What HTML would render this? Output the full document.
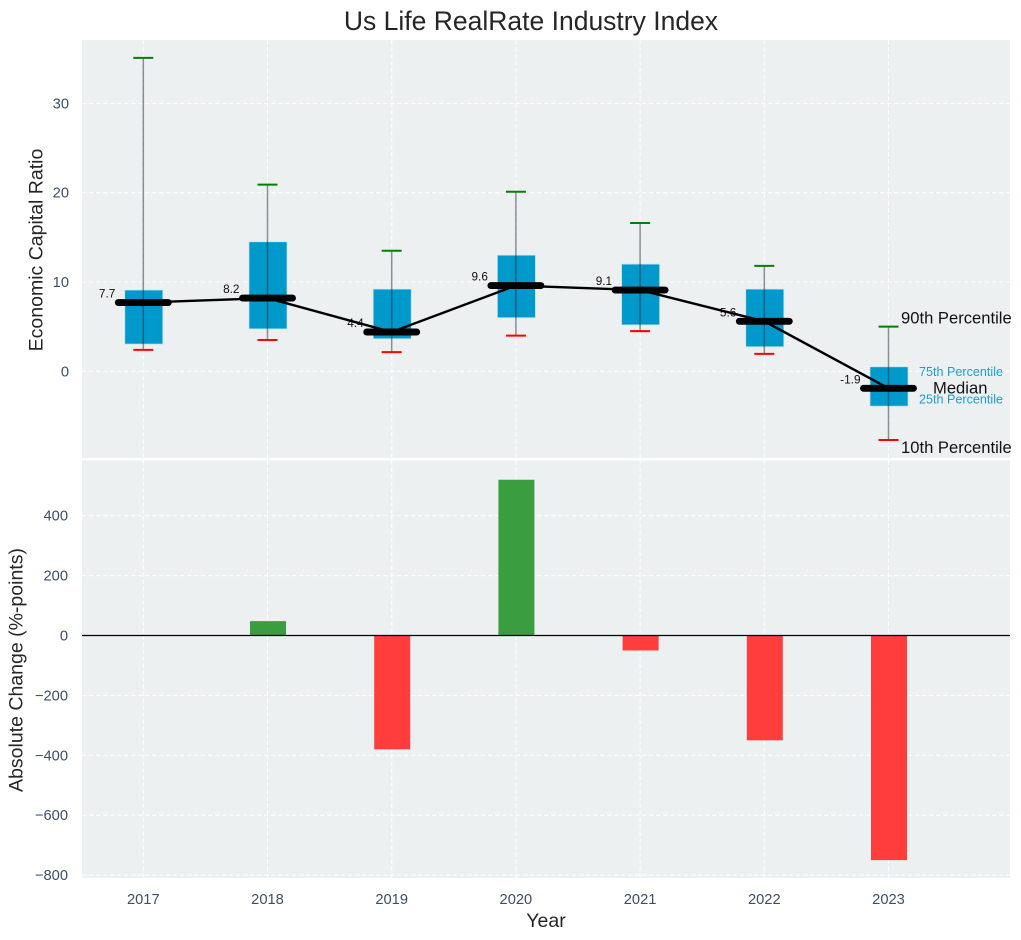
<!DOCTYPE html>
<html>
<head>
<meta charset="utf-8">
<title>Us Life RealRate Industry Index</title>
<style>
html,body{margin:0;padding:0;background:#fff;width:1021px;height:940px;overflow:hidden}
svg{display:block}
text{font-family:"Liberation Sans",Arial,sans-serif}
</style>
</head>
<body>
<svg id="chart" xmlns="http://www.w3.org/2000/svg" width="1021" height="940" viewBox="0 0 1021 940">
  <text x="531" y="30" text-anchor="middle" font-size="26.5" fill="#262626">Us Life RealRate Industry Index</text>
  <rect x="82" y="40" width="928" height="418" fill="#ecf0f1"/>
  <rect x="82" y="460.5" width="928" height="417.5" fill="#ecf0f1"/>
  <g id="grid"></g>
  <g id="bars"></g>
  <line x1="82" x2="1010" y1="635.5" y2="635.5" stroke="#000" stroke-width="1.3"/>
  <g id="boxes"></g>
  <g id="labels"></g>
  <g id="medians"></g>
  <g id="keys"></g>
  <g id="ticks"></g>
  <text transform="translate(42.5,250) rotate(-90)" text-anchor="middle" font-size="19.5" fill="#262626">Economic Capital Ratio</text>
  <text transform="translate(22.5,670) rotate(-90)" text-anchor="middle" font-size="19.5" fill="#262626">Absolute Change (%-points)</text>
  <text x="546" y="927" text-anchor="middle" font-size="19.5" fill="#262626">Year</text>
</svg>
<script>
const years = [2017, 2018, 2019, 2020, 2021, 2022, 2023];
const p90 = [35.1, 20.9, 13.5, 20.1, 16.6, 11.8, 5.0];
const p75 = [9.1, 14.5, 9.2, 13.0, 12.0, 9.2, 0.5];
const medianValues = [7.7, 8.2, 4.4, 9.6, 9.1, 5.6, -1.9];
const p25 = [3.05, 4.75, 3.65, 6.0, 5.2, 2.75, -3.9];
const p10 = [2.4, 3.5, 2.15, 4.0, 4.5, 1.95, -7.7];
const changes = [0, 48, -380, 520, -50, -350, -750];
const topTicks = [0, 10, 20, 30];
const bottomTicks = [-800, -600, -400, -200, 0, 200, 400];

const NS = 'http://www.w3.org/2000/svg';
const xScale = function (year) { return 143.3 + (year - 2017) * 124.2; };
const yTop = function (v) { return 371.3 - v * 8.93; };
const yBottom = function (v) { return 635.5 - v * 0.2995; };

function mk(tag, attrs, parent) {
  const el = document.createElementNS(NS, tag);
  Object.keys(attrs).forEach(function (k) { el.setAttribute(k, attrs[k]); });
  parent.appendChild(el);
  return el;
}
const grid = document.getElementById('grid');
const bars = document.getElementById('bars');
const boxes = document.getElementById('boxes');
const labels = document.getElementById('labels');
const medians = document.getElementById('medians');
const keys = document.getElementById('keys');
const ticks = document.getElementById('ticks');
const gridStyle = { stroke: '#ffffff', 'stroke-width': 1.1, 'stroke-dasharray': '4.5 2.5', opacity: 0.9 };

topTicks.forEach(function (t) {
  const y = yTop(t);
  const g = mk('line', Object.assign({ x1: 82, x2: 1010, y1: y, y2: y }, gridStyle), grid);
  
  
  const l = mk('text', { x: 69, y: y + 5, 'text-anchor': 'end', 'font-size': 14.7, fill: '#3d4f66' }, ticks);
  
  
  l.textContent = String(t);
});
bottomTicks.forEach(function (t) {
  const y = yBottom(t);
  const g = mk('line', Object.assign({ x1: 82, x2: 1010, y1: y, y2: y }, gridStyle), grid);
  
  
  const l = mk('text', { x: 68, y: y + 5, 'text-anchor': 'end', 'font-size': 14.7, fill: '#3d4f66' }, ticks);
  
  
  l.textContent = String(t).replace('-', '\u2212');
});

years.forEach(function (yr, i) {
  const x = xScale(yr);
  const g1 = mk('line', Object.assign({ x1: x, x2: x, y1: 40, y2: 458 }, gridStyle), grid);
  
  
  const g2 = mk('line', Object.assign({ x1: x, x2: x, y1: 460.5, y2: 878 }, gridStyle), grid);
  
  
  const tl = mk('text', { x: x, y: 904, 'text-anchor': 'middle', 'font-size': 14.7, fill: '#3d4f66' }, ticks);
  
  
  tl.textContent = String(yr);

  if (changes[i] !== 0) {
    const y0 = yBottom(0);
    const yv = yBottom(changes[i]);
    const bar = mk('rect', {
      x: x - 17.5, y: Math.min(y0, yv), width: 36, height: Math.abs(yv - y0),
      fill: changes[i] > 0 ? '#3a9d3f' : '#ff3d3d'
    }, bars);
    
    
  }

  const box = mk('rect', {
    x: x - 18.5, y: yTop(p75[i]), width: 38, height: yTop(p25[i]) - yTop(p75[i]),
    fill: '#0099cc', stroke: '#bfe3ee', 'stroke-width': 0.7
  }, boxes);
  
  

  const whisker = mk('line', {
    x1: x, x2: x, y1: yTop(p90[i]), y2: yTop(p10[i]),
    stroke: '#1c2a30', 'stroke-opacity': 0.5, 'stroke-width': 1.5
  }, boxes);
  
  

  const capHigh = mk('line', {
    x1: x - 10, x2: x + 10, y1: yTop(p90[i]), y2: yTop(p90[i]), stroke: '#008000', 'stroke-width': 2
  }, boxes);
  
  

  const capLow = mk('line', {
    x1: x - 10, x2: x + 10, y1: yTop(p10[i]), y2: yTop(p10[i]), stroke: '#ff0000', 'stroke-width': 2
  }, boxes);
  
  

  const vl = mk('text', {
    x: x - 28, y: yTop(medianValues[i]) - 5, 'text-anchor': 'end', 'font-size': 11.8, fill: '#111'
  }, labels);
  
  
  vl.textContent = medianValues[i].toFixed(1);
});

const pts = years.map(function (yr, i) { return xScale(yr) + ',' + yTop(medianValues[i]); }).join(' ');
const medianLine = mk('polyline', { points: pts, fill: 'none', stroke: '#000', 'stroke-width': 2.4 }, medians);



years.forEach(function (yr, i) {
  const x = xScale(yr);
  const m = mk('line', {
    x1: x - 25, x2: x + 25, y1: yTop(medianValues[i]), y2: yTop(medianValues[i]),
    stroke: '#000', 'stroke-width': 6.9, 'stroke-linecap': 'round'
  }, medians);
  
  
});

const last = years.length - 1;
const lastX = xScale(years[last]);
const k90 = mk('text', { x: lastX + 12.5, y: yTop(p90[last]) - 3, 'font-size': 16.6, fill: '#111' }, keys);


k90.textContent = '90th Percentile';
const k75 = mk('text', { x: lastX + 30.5, y: yTop(p75[last]) + 9, 'font-size': 12.6, fill: '#1a9fd0' }, keys);


k75.textContent = '75th Percentile';
const kMed = mk('text', { x: lastX + 44.5, y: yTop(medianValues[last]) + 5, 'font-size': 16.6, fill: '#111' }, keys);


kMed.textContent = 'Median';
const k25 = mk('text', { x: lastX + 30.5, y: yTop(p25[last]) - 2.5, 'font-size': 12.6, fill: '#1a9fd0' }, keys);


k25.textContent = '25th Percentile';
const k10 = mk('text', { x: lastX + 12.5, y: yTop(p10[last]) + 13, 'font-size': 16.6, fill: '#111' }, keys);


k10.textContent = '10th Percentile';
</script>
</body>
</html>
